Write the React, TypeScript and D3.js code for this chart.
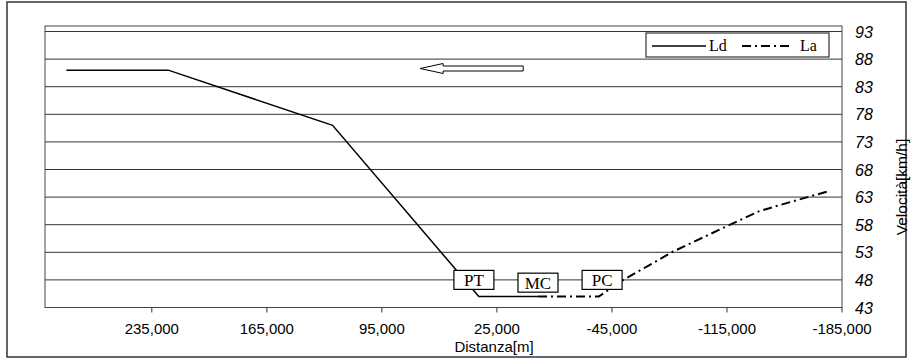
import React from "react";
import * as d3 from "d3";

const ldX = [287000, 225000, 125000, 36000, 0];
const ldY = [86, 86, 76, 45, 45];
const laX = [0, -37000, -52000, -82000, -114000, -135000, -164000, -176000];
const laY = [45, 45, 48, 53.1, 57.6, 60.5, 63, 64];
const xTicks = [235000, 165000, 95000, 25000, -45000, -115000, -185000];
const yTicks = [43, 48, 53, 58, 63, 68, 73, 78, 83, 88, 93];
const boxLabels = ["PT", "MC", "PC"];
const boxX = [39000, 0, -39000];
const boxY = [48, 47.5, 48];
const arrowTipX = 71700;
const arrowTailX = 9000;
const arrowY = 86.3;

const W = 913, H = 360;
const L = 45, R = 842, T = 26, B = 307.5;

export default function App() {
  const x = d3.scaleLinear().domain([300000, -185000]).range([L, R]);
  const y = d3.scaleLinear().domain([43, 94]).range([B, T]);
  const fmt = (v: number) => d3.format(",")(v).replace("\u2212", "-");
  const line = d3.line<[number, number]>().x(d => x(d[0])).y(d => y(d[1]));
  const ld = line(ldX.map((v, i) => [v, ldY[i]] as [number, number])) || "";
  const la = line(laX.map((v, i) => [v, laY[i]] as [number, number])) || "";

  const tipX = x(arrowTipX), tailX = x(arrowTailX), ay = y(arrowY);
  const headW = 23;
  const arrowPath = `M${tipX},${ay} L${tipX + headW},${ay - 5} L${tipX + headW},${ay - 2.5} L${tailX},${ay - 2.5} L${tailX},${ay + 2.5} L${tipX + headW},${ay + 2.5} L${tipX + headW},${ay + 5} Z`;

  const sans = "'Liberation Sans', Arial, sans-serif";
  const serif = "'Liberation Serif', 'Times New Roman', serif";

  return (
    <svg width={W} height={H} style={{ position: "absolute", left: 0, top: 0, background: "#fff" }}>
      <rect x={7} y={2} width={899} height={355} fill="#fff" stroke="#333" strokeWidth={1.5} />
      {yTicks.map(t => (
        <line key={"g" + t} x1={L} x2={R} y1={y(t)} y2={y(t)} stroke="#333" strokeWidth={1} />
      ))}
      <rect x={L} y={T} width={R - L} height={B - T} fill="none" stroke="#444" strokeWidth={1} />
      {xTicks.map(t => (
        <g key={"x" + t}>
          <line x1={x(t)} x2={x(t)} y1={B} y2={B + 5} stroke="#333" />
          <text x={x(t)} y={334} textAnchor="middle" fontFamily={sans} fontSize={15} fill="#000">{fmt(t)}</text>
        </g>
      ))}
      {yTicks.map(t => (
        <text key={"y" + t} x={855} y={y(t) + 6} fontFamily={sans} fontSize={16} fontStyle="italic" fill="#000">{t}</text>
      ))}
      <text x={494} y={352} textAnchor="middle" fontFamily={sans} fontSize={15} fill="#000">Distanza[m]</text>
      <text transform="translate(907,187) rotate(-90)" textAnchor="middle" fontFamily={sans} fontSize={15.5} fill="#000">Velocità[km/h]</text>

      <path d={ld} fill="none" stroke="#000" strokeWidth={1.5} />
      <path d={la} fill="none" stroke="#000" strokeWidth={2} strokeDasharray="9,4,2,4" />

      <path d={arrowPath} fill="#fff" stroke="#000" strokeWidth={1} />

      {boxLabels.map((lbl, i) => {
        const cx = x(boxX[i]), cy = y(boxY[i]);
        return (
          <g key={lbl}>
            <rect x={cx - 20} y={cy - 9.5} width={40} height={19} fill="#fff" stroke="#000" strokeWidth={1.2} />
            <text x={cx} y={cy + 6} textAnchor="middle" fontFamily={serif} fontSize={17} fill="#000">{lbl}</text>
          </g>
        );
      })}

      <g>
        <rect x={646} y={33} width={183} height={24} fill="#fff" stroke="#333" strokeWidth={1.2} />
        <line x1={652} x2={706} y1={46} y2={46} stroke="#000" strokeWidth={1.5} />
        <text x={709} y={51} fontFamily={serif} fontSize={16} fill="#000">Ld</text>
        <line x1={742} x2={793} y1={46} y2={46} stroke="#000" strokeWidth={2} strokeDasharray="9,4,2,4" />
        <text x={800} y={51} fontFamily={serif} fontSize={16} fill="#000">La</text>
      </g>
    </svg>
  );
}
